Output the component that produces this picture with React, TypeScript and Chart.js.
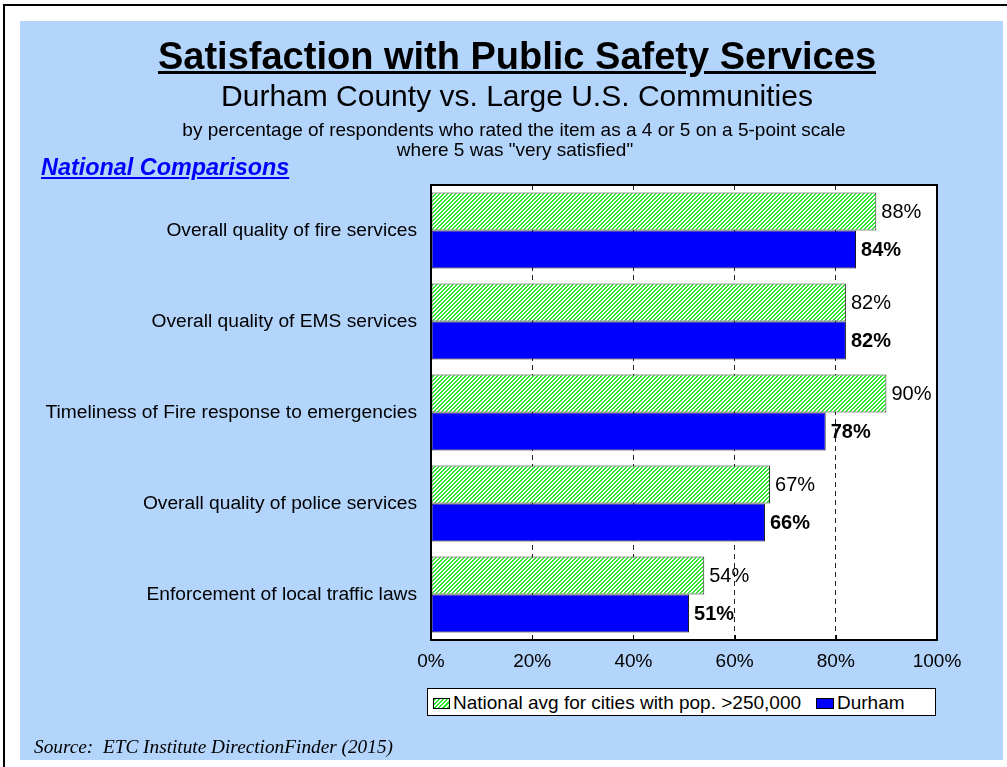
import React, { useEffect, useRef } from "react";
import { Chart, registerables } from "chart.js";

Chart.register(...registerables);

const categories = [
  "Overall quality of fire services",
  "Overall quality of EMS services",
  "Timeliness of Fire response to emergencies",
  "Overall quality of police services",
  "Enforcement of local traffic laws",
];
const nationalValues = [88, 82, 90, 67, 54];
const durhamValues = [84, 82, 78, 66, 51];
const seriesNames = ["National avg for cities with pop. >250,000", "Durham"];
const xTickValues = [0, 20, 40, 60, 80, 100];

const SANS = "'Liberation Sans', Arial, Helvetica, sans-serif";
const SERIF = "'Liberation Serif', 'Times New Roman', serif";
const PANEL = "#b3d4fb";
const GREEN = "#2fe62f";
const BLUE = "#0000ff";

function makeHatch(): CanvasPattern | string {
  const c = document.createElement("canvas");
  c.width = 4;
  c.height = 4;
  const ctx = c.getContext("2d");
  if (!ctx) return GREEN;
  ctx.fillStyle = "#ffffff";
  ctx.fillRect(0, 0, 4, 4);
  ctx.fillStyle = GREEN;
  for (let x = 0; x < 4; x++)
    for (let y = 0; y < 4; y++) if ((x + y) % 4 === 0 || (x + y) % 4 === 1) ctx.fillRect(x, y, 1, 1);
  return ctx.createPattern(c, "repeat") || GREEN;
}

const framePlugin = {
  id: "frame",
  beforeDraw(chart: any) {
    const { ctx, chartArea: a } = chart;
    ctx.save();
    ctx.fillStyle = "#ffffff";
    ctx.fillRect(a.left, a.top, a.right - a.left, a.bottom - a.top);
    ctx.restore();
  },
  afterDatasetsDraw(chart: any) {
    const { ctx, chartArea: a } = chart;
    ctx.save();
    const xs = chart.scales.x;
    ctx.strokeStyle = "#000";
    ctx.lineWidth = 1;
    xTickValues.forEach((v) => {
      const px = Math.round(xs.getPixelForValue(v)) + 0.5;
      ctx.beginPath();
      ctx.moveTo(px, a.bottom);
      ctx.lineTo(px, a.bottom - 5);
      ctx.stroke();
    });
    chart.data.datasets.forEach((ds: any, di: number) => {
      const meta = chart.getDatasetMeta(di);
      ctx.font = (di === 1 ? "bold " : "") + "20px " + SANS;
      ctx.fillStyle = "#000";
      ctx.textAlign = "left";
      ctx.textBaseline = "middle";
      meta.data.forEach((bar: any, i: number) => {
        ctx.fillText(ds.data[i] + "%", bar.x + 5, bar.y + 1);
      });
    });
    ctx.strokeStyle = "#000";
    ctx.lineWidth = 2;
    ctx.strokeRect(a.left, a.top, a.right - a.left, a.bottom - a.top);
    ctx.restore();
  },
};

function TextAt(props: { children: any; top: number; left?: number; width?: number; fs: number; style?: any }) {
  const { children, top, left = 0, width, fs, style } = props;
  return (
    <div
      style={{
        position: "absolute",
        top,
        left,
        width,
        fontSize: fs,
        lineHeight: fs + "px",
        fontFamily: SANS,
        color: "#000",
        whiteSpace: "nowrap",
        ...style,
      }}
    >
      {children}
    </div>
  );
}

export default function App() {
  const canvasRef = useRef<HTMLCanvasElement>(null);

  useEffect(() => {
    const canvas = canvasRef.current;
    if (!canvas) return;
    const hatch = makeHatch();
    const chart = new Chart(canvas, {
      type: "bar",
      data: {
        labels: categories,
        datasets: [
          {
            label: seriesNames[0],
            data: nationalValues,
            backgroundColor: hatch as any,
            borderColor: "#333",
            borderWidth: 1,
            borderSkipped: false,
            categoryPercentage: 0.835,
            barPercentage: 1.0,
          },
          {
            label: seriesNames[1],
            data: durhamValues,
            backgroundColor: BLUE,
            borderColor: "#111",
            borderWidth: 1,
            borderSkipped: false,
            categoryPercentage: 0.835,
            barPercentage: 1.0,
          },
        ],
      },
      options: {
        indexAxis: "y",
        responsive: false,
        animation: false,
        devicePixelRatio: 1,
        layout: { padding: { top: 185, right: 70, bottom: 87, left: 0 } },
        plugins: {
          legend: { display: false },
          tooltip: { enabled: false },
          title: { display: false },
        },
        scales: {
          x: {
            min: 0,
            max: 100,
            afterFit: (s: any) => {
              s.height = 40;
            },
            afterBuildTicks: (s: any) => {
              s.ticks = xTickValues.map((v) => ({ value: v }));
            },
            ticks: {
              stepSize: 20,
              padding: 10,
              color: "#000",
              font: { family: SANS, size: 19 },
              callback: (v: any) => v + "%",
            },
            grid: { color: "#222", lineWidth: 1, drawTicks: false },
            border: { display: false, dash: [5, 4] },
          },
          y: {
            afterFit: (s: any) => {
              s.width = 431;
            },
            ticks: {
              padding: 14,
              color: "#000",
              font: { family: SANS, size: 19.2 },
            },
            grid: { display: false, drawTicks: false },
            border: { display: false },
          },
        },
      },
      plugins: [framePlugin],
    } as any);
    return () => chart.destroy();
  }, []);

  return (
    <div style={{ position: "absolute", left: 0, top: 0, width: 1007, height: 767, background: "#fff", overflow: "hidden" }}>
      <div style={{ position: "absolute", left: 3, top: 4, width: 1010, height: 770, borderTop: "2px solid #000", borderLeft: "2px solid #000" }} />
      <div style={{ position: "absolute", left: 20, top: 21, width: 983, height: 739, background: PANEL }} />
      <canvas ref={canvasRef} width={1007} height={767} style={{ position: "absolute", left: 0, top: 0, width: 1007, height: 767 }} />
      <TextAt top={37} left={17} width={1000} fs={38} style={{ textAlign: "center", fontWeight: "bold" }}>
        <span style={{ textDecoration: "underline" }}>Satisfaction with Public Safety Services</span>
      </TextAt>
      <TextAt top={81} left={17} width={1000} fs={30} style={{ textAlign: "center" }}>
        Durham County vs. Large U.S. Communities
      </TextAt>
      <TextAt top={119.5} left={14} width={1000} fs={19} style={{ textAlign: "center" }}>
        by percentage of respondents who rated the item as a 4 or 5 on a 5-point scale
      </TextAt>
      <TextAt top={139.5} left={15} width={1000} fs={19} style={{ textAlign: "center" }}>
        where 5 was "very satisfied"
      </TextAt>
      <TextAt top={156} left={41} fs={23.4} style={{ fontWeight: "bold", fontStyle: "italic", color: "#0000ff", textDecoration: "underline" }}>
        National Comparisons
      </TextAt>
      <div style={{ position: "absolute", left: 427, top: 688, width: 507, height: 26, border: "1px solid #000", background: "#fff" }}>
        <div
          style={{
            position: "absolute",
            left: 5,
            top: 9,
            width: 15,
            height: 9,
            border: "1px solid #000",
            background: `repeating-linear-gradient(135deg, ${GREEN} 0px, ${GREEN} 1.5px, #fff 1.5px, #fff 3px)`,
          }}
        />
        <TextAt top={4} left={25} fs={19}>{seriesNames[0]}</TextAt>
        <div style={{ position: "absolute", left: 388, top: 9, width: 16, height: 9, border: "1px solid #000", background: BLUE }} />
        <TextAt top={4} left={409} fs={19}>{seriesNames[1]}</TextAt>
      </div>
      <TextAt top={736.5} left={34} fs={19.3} style={{ fontFamily: SERIF, fontStyle: "italic" }}>
        Source:&nbsp; ETC Institute DirectionFinder (2015)
      </TextAt>
    </div>
  );
}
